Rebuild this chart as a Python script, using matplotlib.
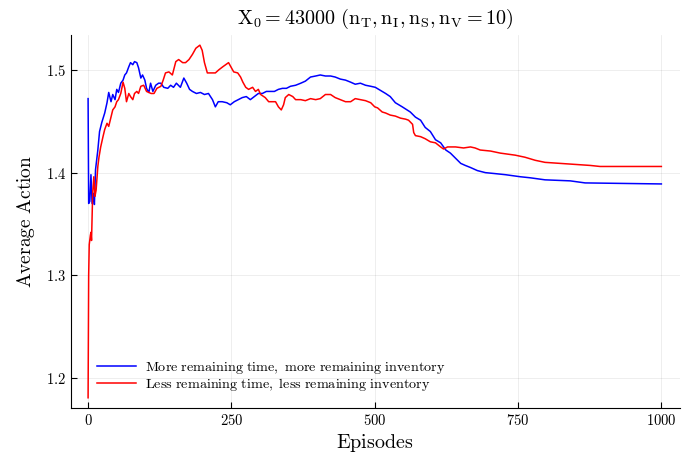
import matplotlib
matplotlib.use("Agg")
import matplotlib.pyplot as plt

# values (running average of the action)
blue_ep = [0, 1, 3, 5, 7, 9, 11, 13, 17, 20, 24, 29, 33, 36, 40, 43, 47, 50, 53, 57,
           61, 64, 67, 71, 74, 78, 81, 85, 88, 92, 95, 99, 102, 106, 109, 113, 118, 123,
           127, 132, 139, 144, 149, 154, 161, 167, 172, 177, 182, 189, 196, 203, 210,
           217, 222, 227, 234, 242, 248, 255, 262, 269, 276, 283, 290, 297, 304, 311,
           318, 325, 332, 339, 346, 353, 362, 371, 379, 388, 397, 405, 414, 423, 431,
           440, 449, 458, 466, 475, 484, 493, 501, 510, 519, 527, 536, 548, 562, 571,
           580, 588, 597, 606, 615, 624, 632, 641, 650, 658, 667, 679, 693, 711, 728,
           754, 771, 797, 841, 867, 1000]
blue_val = [1.472, 1.370, 1.372, 1.398, 1.370, 1.380, 1.369, 1.403, 1.422, 1.440, 1.449,
            1.458, 1.468, 1.478, 1.469, 1.476, 1.471, 1.481, 1.478, 1.487, 1.490, 1.495,
            1.497, 1.503, 1.507, 1.505, 1.508, 1.507, 1.502, 1.492, 1.495, 1.490, 1.482,
            1.478, 1.487, 1.479, 1.485, 1.487, 1.487, 1.483, 1.482, 1.485, 1.483, 1.487,
            1.483, 1.492, 1.487, 1.481, 1.479, 1.477, 1.478, 1.476, 1.477, 1.471, 1.464,
            1.469, 1.469, 1.468, 1.466, 1.469, 1.471, 1.473, 1.474, 1.471, 1.474, 1.477,
            1.477, 1.479, 1.479, 1.479, 1.481, 1.482, 1.482, 1.484, 1.485, 1.487, 1.489,
            1.493, 1.494, 1.495, 1.494, 1.494, 1.493, 1.491, 1.490, 1.488, 1.486, 1.487,
            1.485, 1.484, 1.483, 1.480, 1.477, 1.474, 1.468, 1.464, 1.459, 1.454, 1.451,
            1.444, 1.440, 1.432, 1.429, 1.422, 1.419, 1.414, 1.409, 1.407, 1.405, 1.402,
            1.400, 1.399, 1.398, 1.396, 1.395, 1.393, 1.392, 1.390, 1.389]

red_ep = [0, 1, 2, 4, 5, 6, 7, 8, 10, 12, 14, 17, 19, 22, 26, 29, 33, 36, 40, 43, 47,
          50, 53, 57, 61, 64, 67, 71, 74, 78, 81, 85, 88, 92, 97, 102, 106, 110, 115,
          120, 127, 131, 135, 141, 147, 153, 158, 165, 170, 176, 182, 188, 195, 199,
          203, 208, 214, 222, 228, 235, 240, 245, 249, 254, 261, 266, 270, 275, 280,
          287, 292, 297, 301, 309, 315, 327, 332, 337, 341, 344, 350, 357, 362, 371,
          379, 388, 397, 405, 414, 423, 431, 440, 449, 458, 466, 475, 484, 493, 500,
          505, 513, 519, 527, 536, 545, 554, 559, 566, 568, 571, 580, 588, 597, 606,
          615, 620, 627, 641, 655, 667, 675, 684, 702, 719, 745, 762, 780, 797, 823,
          850, 876, 893, 1000]
red_val = [1.181, 1.300, 1.330, 1.339, 1.342, 1.334, 1.357, 1.380, 1.396, 1.377, 1.383,
           1.406, 1.415, 1.425, 1.435, 1.442, 1.448, 1.445, 1.454, 1.461, 1.464, 1.469,
           1.471, 1.477, 1.488, 1.482, 1.469, 1.477, 1.474, 1.471, 1.477, 1.479, 1.477,
           1.484, 1.485, 1.479, 1.478, 1.477, 1.477, 1.482, 1.484, 1.490, 1.497, 1.498,
           1.495, 1.508, 1.510, 1.507, 1.507, 1.510, 1.515, 1.521, 1.524, 1.519, 1.507,
           1.497, 1.497, 1.497, 1.500, 1.503, 1.505, 1.507, 1.503, 1.498, 1.497, 1.493,
           1.488, 1.483, 1.481, 1.483, 1.479, 1.481, 1.476, 1.473, 1.469, 1.469, 1.464,
           1.461, 1.466, 1.473, 1.476, 1.474, 1.471, 1.471, 1.470, 1.472, 1.471, 1.472,
           1.476, 1.476, 1.473, 1.471, 1.469, 1.469, 1.472, 1.471, 1.470, 1.468, 1.464,
           1.463, 1.459, 1.458, 1.456, 1.455, 1.453, 1.452, 1.451, 1.447, 1.439, 1.436,
           1.435, 1.433, 1.430, 1.429, 1.425, 1.423, 1.425, 1.425, 1.424, 1.425, 1.424,
           1.422, 1.421, 1.419, 1.417, 1.415, 1.412, 1.410, 1.409, 1.408, 1.407, 1.406,
           1.406]

x_ticks = [0, 250, 500, 750, 1000]
y_ticks = [1.2, 1.3, 1.4, 1.5]

plt.rcParams['font.family'] = 'serif'
plt.rcParams['font.serif'] = ['cmr10']
plt.rcParams['mathtext.fontset'] = 'cm'
plt.rcParams['axes.formatter.use_mathtext'] = True

fig = plt.figure(figsize=(6.95, 4.59), dpi=100)
ax = fig.add_axes([0.102, 0.111, 0.876, 0.813])

ax.plot(blue_ep, blue_val, color='blue', lw=1.1,
        label=r'$\mathrm{More\ remaining\ time,\ more\ remaining\ inventory}$')
ax.plot(red_ep, red_val, color='red', lw=1.1,
        label=r'$\mathrm{Less\ remaining\ time,\ less\ remaining\ inventory}$')

ax.set_xlim(-30, 1032)
ax.set_ylim(1.171, 1.534)
ax.set_xticks(x_ticks)
ax.set_yticks(y_ticks)
ax.set_xticklabels([f"${t}$" for t in x_ticks])
ax.set_yticklabels([f"${t:.1f}$" for t in y_ticks])
ax.tick_params(direction='in', length=4, labelsize=10.5)
ax.grid(True, color='black', alpha=0.08, lw=0.6)
ax.spines['top'].set_visible(False)
ax.spines['right'].set_visible(False)

ax.set_xlabel(r'$\mathrm{Episodes}$', fontsize=14.5, labelpad=3)
ax.set_ylabel(r'$\mathrm{Average\ Action}$', fontsize=14, labelpad=6)
ax.set_title(r'$\mathrm{X}_0 = 43000\ (\mathrm{n}_\mathrm{T}, \mathrm{n}_\mathrm{I}, '
             r'\mathrm{n}_\mathrm{S}, \mathrm{n}_\mathrm{V} = 10)$', fontsize=14.5, pad=8)

ax.legend(loc='lower left', frameon=False, fontsize=10.2, handlelength=2.8,
          bbox_to_anchor=(0.033, 0.025), borderaxespad=0, labelspacing=0.0,
          handletextpad=0.6)

fig.savefig('out.png', dpi=100)
